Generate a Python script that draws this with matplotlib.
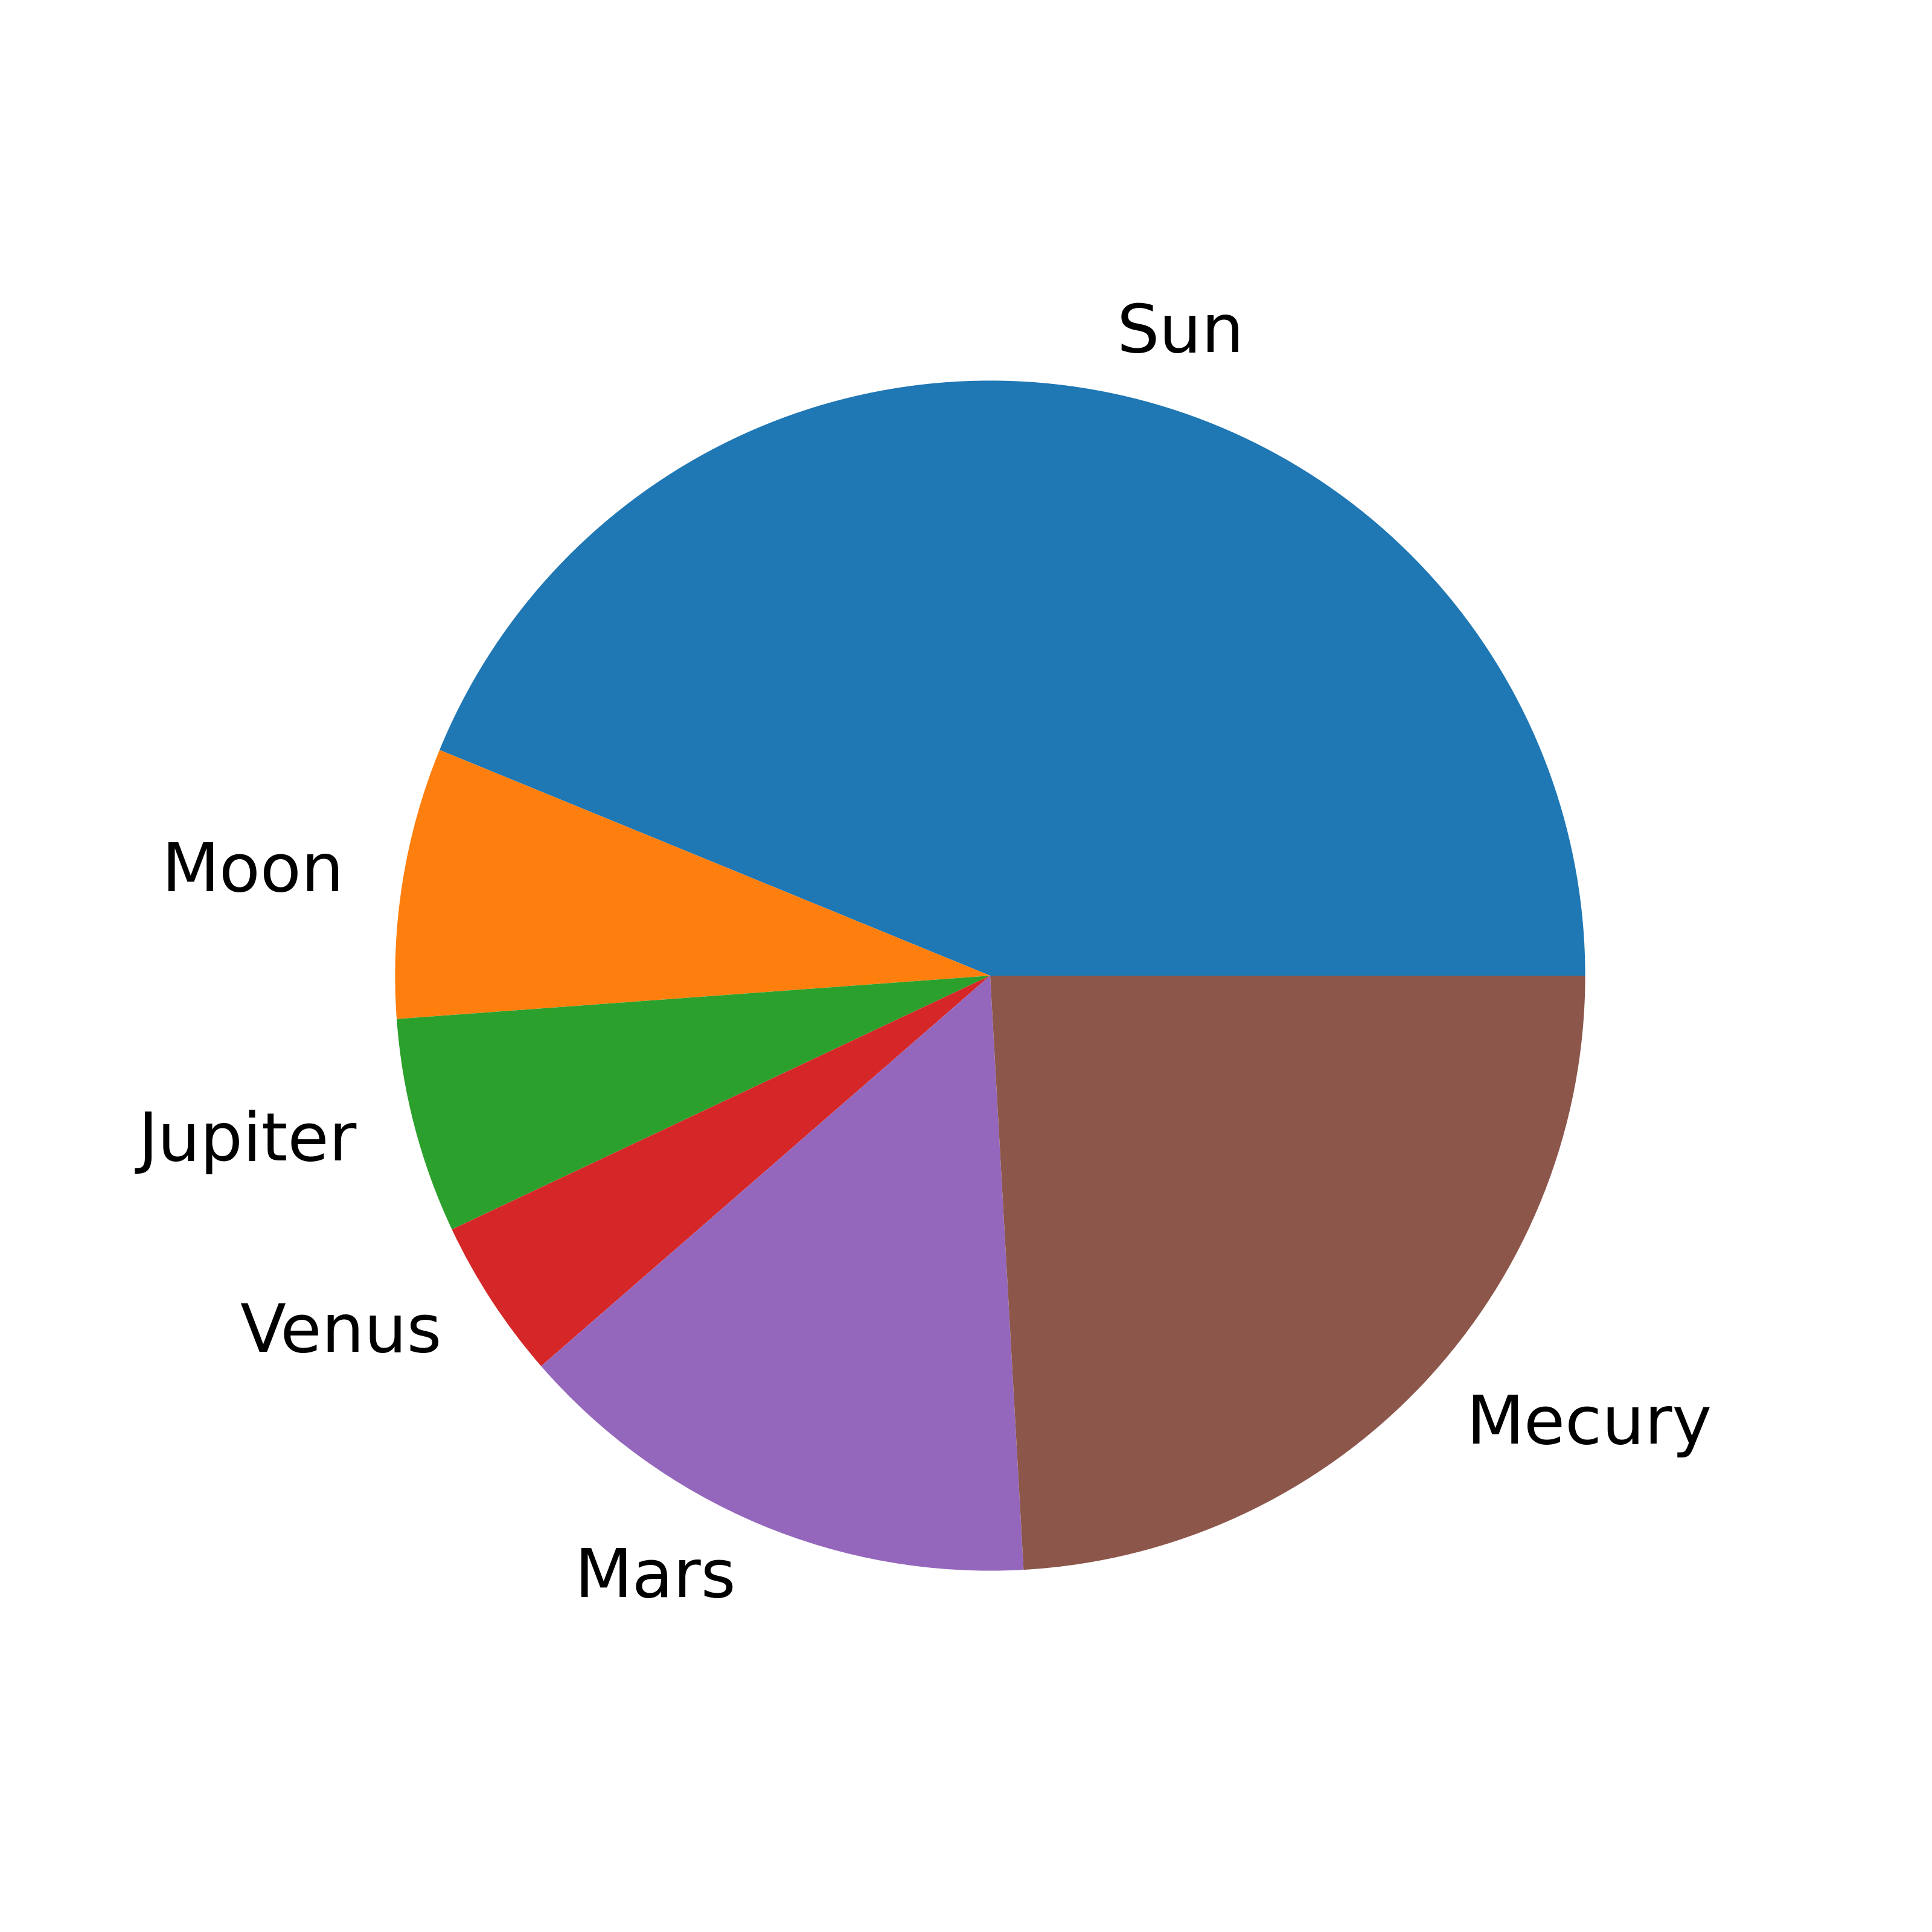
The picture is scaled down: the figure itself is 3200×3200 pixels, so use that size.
import matplotlib
matplotlib.use("Agg")
import matplotlib.pyplot as plt

labels = ["Sun", "Moon", "Jupiter", "Venus", "Mars", "Mecury"]
sizes = [43.8, 7.35, 5.85, 4.38, 14.5, 24.1]

fig, ax = plt.subplots(figsize=(10, 10), dpi=320)
ax.pie(sizes, labels=labels, textprops={"fontsize": 25})
fig.savefig("out.png", dpi=320)
